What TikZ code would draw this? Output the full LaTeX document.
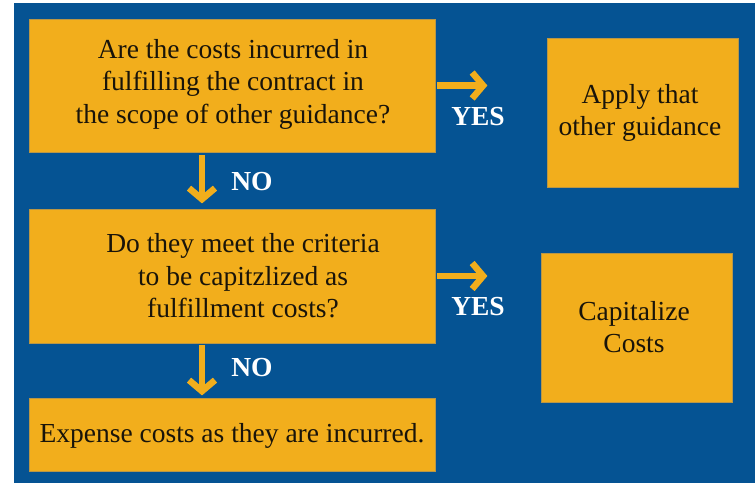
\documentclass[tikz,border=0pt]{standalone}
\usepackage{fontspec}
\setmainfont{Liberation Serif}
\usetikzlibrary{arrows.meta}
\definecolor{bgblue}{RGB}{5,83,147}
\definecolor{boxorange}{RGB}{242,174,28}
\definecolor{boxedge}{RGB}{185,150,70}
\definecolor{txt}{RGB}{25,20,10}
\begin{document}
\begin{tikzpicture}[x=1pt,y=-1pt,
  box/.style={fill=boxorange,draw=boxedge,line width=0.8pt,inner sep=0pt},
  boxtext/.style={text=txt,align=center,font=\fontsize{27.5}{32.5}\selectfont,inner sep=0pt},
  answer/.style={text=white,font=\fontsize{27.5}{33}\selectfont\bfseries,inner sep=0pt},
  flowarrow/.style={draw=boxorange,line width=6.5pt,-{Straight Barb[length=11pt,width=26pt]}}]
\useasboundingbox (0,0) rectangle (755,483);
\fill[white] (0,0) rectangle (755,483);
\fill[bgblue] (14,3) rectangle (755,483);
% boxes
\node[box,minimum width=406pt,minimum height=133pt] (q1) at (232,85.5) {};
\node[box,minimum width=191pt,minimum height=149pt] (a1) at (642.5,112.5) {};
\node[box,minimum width=406pt,minimum height=134pt] (q2) at (232,276) {};
\node[box,minimum width=191pt,minimum height=149pt] (a2) at (636.5,327.5) {};
\node[box,minimum width=406pt,minimum height=73pt] (q3) at (232,434.5) {};
% texts
\node[boxtext] (q1t) at (233,84) {Are the costs incurred in\\fulfilling the contract in\\the scope of other guidance?};
\node[boxtext] (a1t) at (640,113) {Apply that\\other guidance};
\node[boxtext] (q2t) at (243,276) {Do they meet the criteria\\to be capitzlized as\\fulfillment costs?};
\node[boxtext] (a2t) at (634,327) {Capitalize\\Costs};
\node[boxtext] (q3t) at (232,436) {Expense costs as they are incurred.};
% arrows
\draw[flowarrow] ([xshift=2pt]q1.east) -- ++(50,0);
\draw[flowarrow] ([xshift=2pt]q2.east) -- ++(50,0);
\draw[flowarrow] ([xshift=-30pt,yshift=-3pt]q1.south) -- ++(0,48);
\draw[flowarrow] ([xshift=-30pt,yshift=-2pt]q2.south) -- ++(0,50);
% labels
\node[answer] (yes1) at (478,117) {YES};
\node[answer] (yes2) at (478,307) {YES};
\node[answer] (no1) at (252,182) {NO};
\node[answer] (no2) at (252,368) {NO};
\end{tikzpicture}
\end{document}
